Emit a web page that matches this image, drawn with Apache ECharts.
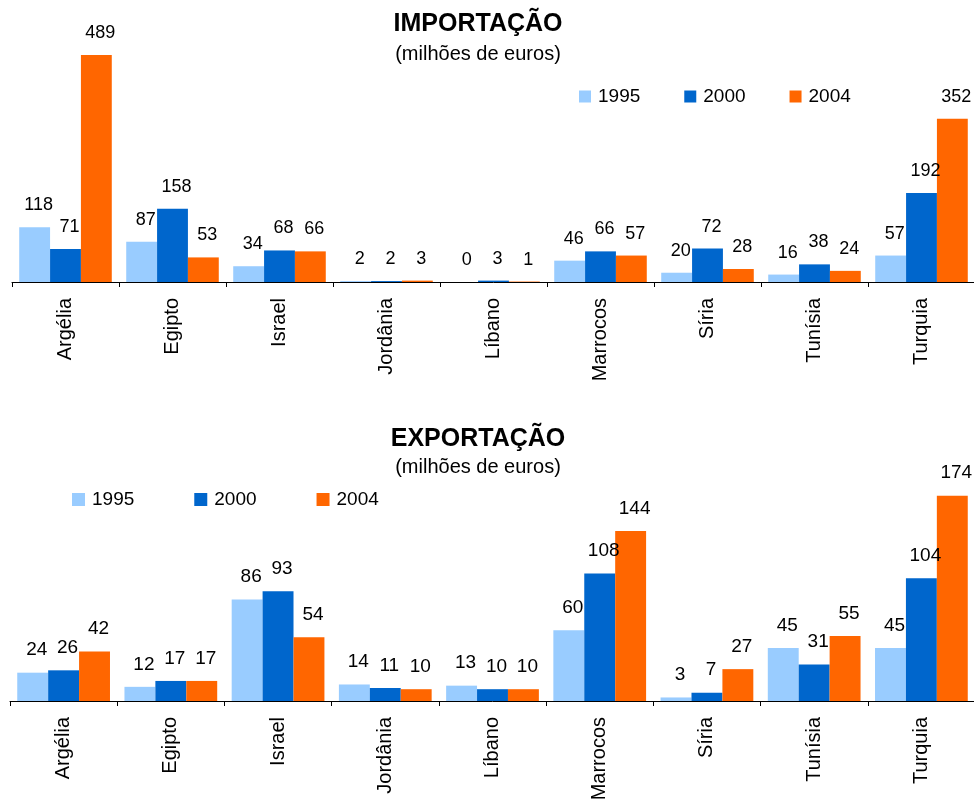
<!DOCTYPE html>
<html>
<head>
<meta charset="utf-8">
<script src="https://cdn.jsdelivr.net/npm/echarts@6/dist/echarts.min.js"></script>
<style>
html,body{margin:0;padding:0;background:#fff;}
#chart{width:974px;height:800px;}
</style>
</head>
<body>
<div id="chart"></div>
<script>
const categories = ['Argélia','Egipto','Israel','Jordânia','Líbano','Marrocos','Síria','Tunísia','Turquia'];
const years = ['1995','2000','2004'];
const colors = ['#99CCFF','#0066CC','#FF6600'];

const imp1995 = [118, 87, 34, 2, 0, 46, 20, 16, 57];
const imp2000 = [71, 158, 68, 2, 3, 66, 72, 38, 192];
const imp2004 = [489, 53, 66, 3, 1, 57, 28, 24, 352];

const exp1995 = [24, 12, 86, 14, 13, 60, 3, 45, 45];
const exp2000 = [26, 17, 93, 11, 10, 108, 7, 31, 104];
const exp2004 = [42, 17, 54, 10, 10, 144, 27, 55, 174];

const FONT = 'Arial, "Liberation Sans", sans-serif';

function barSeries(name, data, idx, color, fs) {
  return {
    name: name, type: 'bar', data: data,
    xAxisIndex: idx, yAxisIndex: idx,
    barGap: '0%', barCategoryGap: '13.5%',
    itemStyle: { color: color },
    label: {
      show: true, position: 'top', distance: 13, offset: [4, 0],
      color: '#000', fontSize: fs, fontFamily: FONT
    },
    emphasis: { disabled: true },
    animation: false
  };
}

const chart = echarts.init(document.getElementById('chart'), null, { renderer: 'canvas' });
chart.setOption({
  animation: false,
  backgroundColor: '#fff',
  textStyle: { fontFamily: FONT },
  title: [
    { text: 'IMPORTAÇÃO', left: 478, top: 12, textAlign: 'center', padding: 0,
      textStyle: { fontSize: 25, fontWeight: 'bold', color: '#000', fontFamily: FONT } },
    { text: '(milhões de euros)', left: 478, top: 44, textAlign: 'center', padding: 0,
      textStyle: { fontSize: 20, fontWeight: 'normal', color: '#000', fontFamily: FONT } },
    { text: 'EXPORTAÇÃO', left: 478, top: 427, textAlign: 'center', padding: 0,
      textStyle: { fontSize: 25, fontWeight: 'bold', color: '#000', fontFamily: FONT } },
    { text: '(milhões de euros)', left: 478, top: 457, textAlign: 'center', padding: 0,
      textStyle: { fontSize: 20, fontWeight: 'normal', color: '#000', fontFamily: FONT } }
  ],
  legend: [
    { data: years, left: 579, top: 87, padding: 0, itemWidth: 12, itemHeight: 12, itemGap: 44,
      icon: 'rect', selectedMode: false,
      textStyle: { fontSize: 19, color: '#000', fontFamily: FONT, padding: [0, 0, 0, 2] } },
    { data: years, left: 72, top: 490, padding: 0, itemWidth: 13, itemHeight: 13, itemGap: 60,
      icon: 'rect', selectedMode: false,
      textStyle: { fontSize: 19, color: '#000', fontFamily: FONT, padding: [0, 0, 0, 2] } }
  ],
  grid: [
    { left: 12, width: 963, top: 50, height: 232, containLabel: false, outerBoundsMode: 'none' },
    { left: 10, width: 965, top: 465, height: 236, containLabel: false, outerBoundsMode: 'none' }
  ],
  xAxis: [0, 1].map(i => ({
    type: 'category', gridIndex: i, data: categories,
    axisLine: { show: true, lineStyle: { color: '#000', width: 1 } },
    axisTick: { show: true, length: 5, lineStyle: { color: '#000' } },
    axisLabel: { rotate: 90, margin: 16, fontSize: 20, color: '#000', fontFamily: FONT },
    splitLine: { show: false }
  })),
  yAxis: [
    { type: 'value', gridIndex: 0, min: 0, max: 500, show: false, splitLine: { show: false } },
    { type: 'value', gridIndex: 1, min: 0, max: 200, show: false, splitLine: { show: false } }
  ],
  series: [
    barSeries(years[0], imp1995, 0, colors[0], 18),
    barSeries(years[1], imp2000, 0, colors[1], 18),
    barSeries(years[2], imp2004, 0, colors[2], 18),
    barSeries(years[0], exp1995, 1, colors[0], 19),
    barSeries(years[1], exp2000, 1, colors[1], 19),
    barSeries(years[2], exp2004, 1, colors[2], 19)
  ]
});
</script>
</body>
</html>
